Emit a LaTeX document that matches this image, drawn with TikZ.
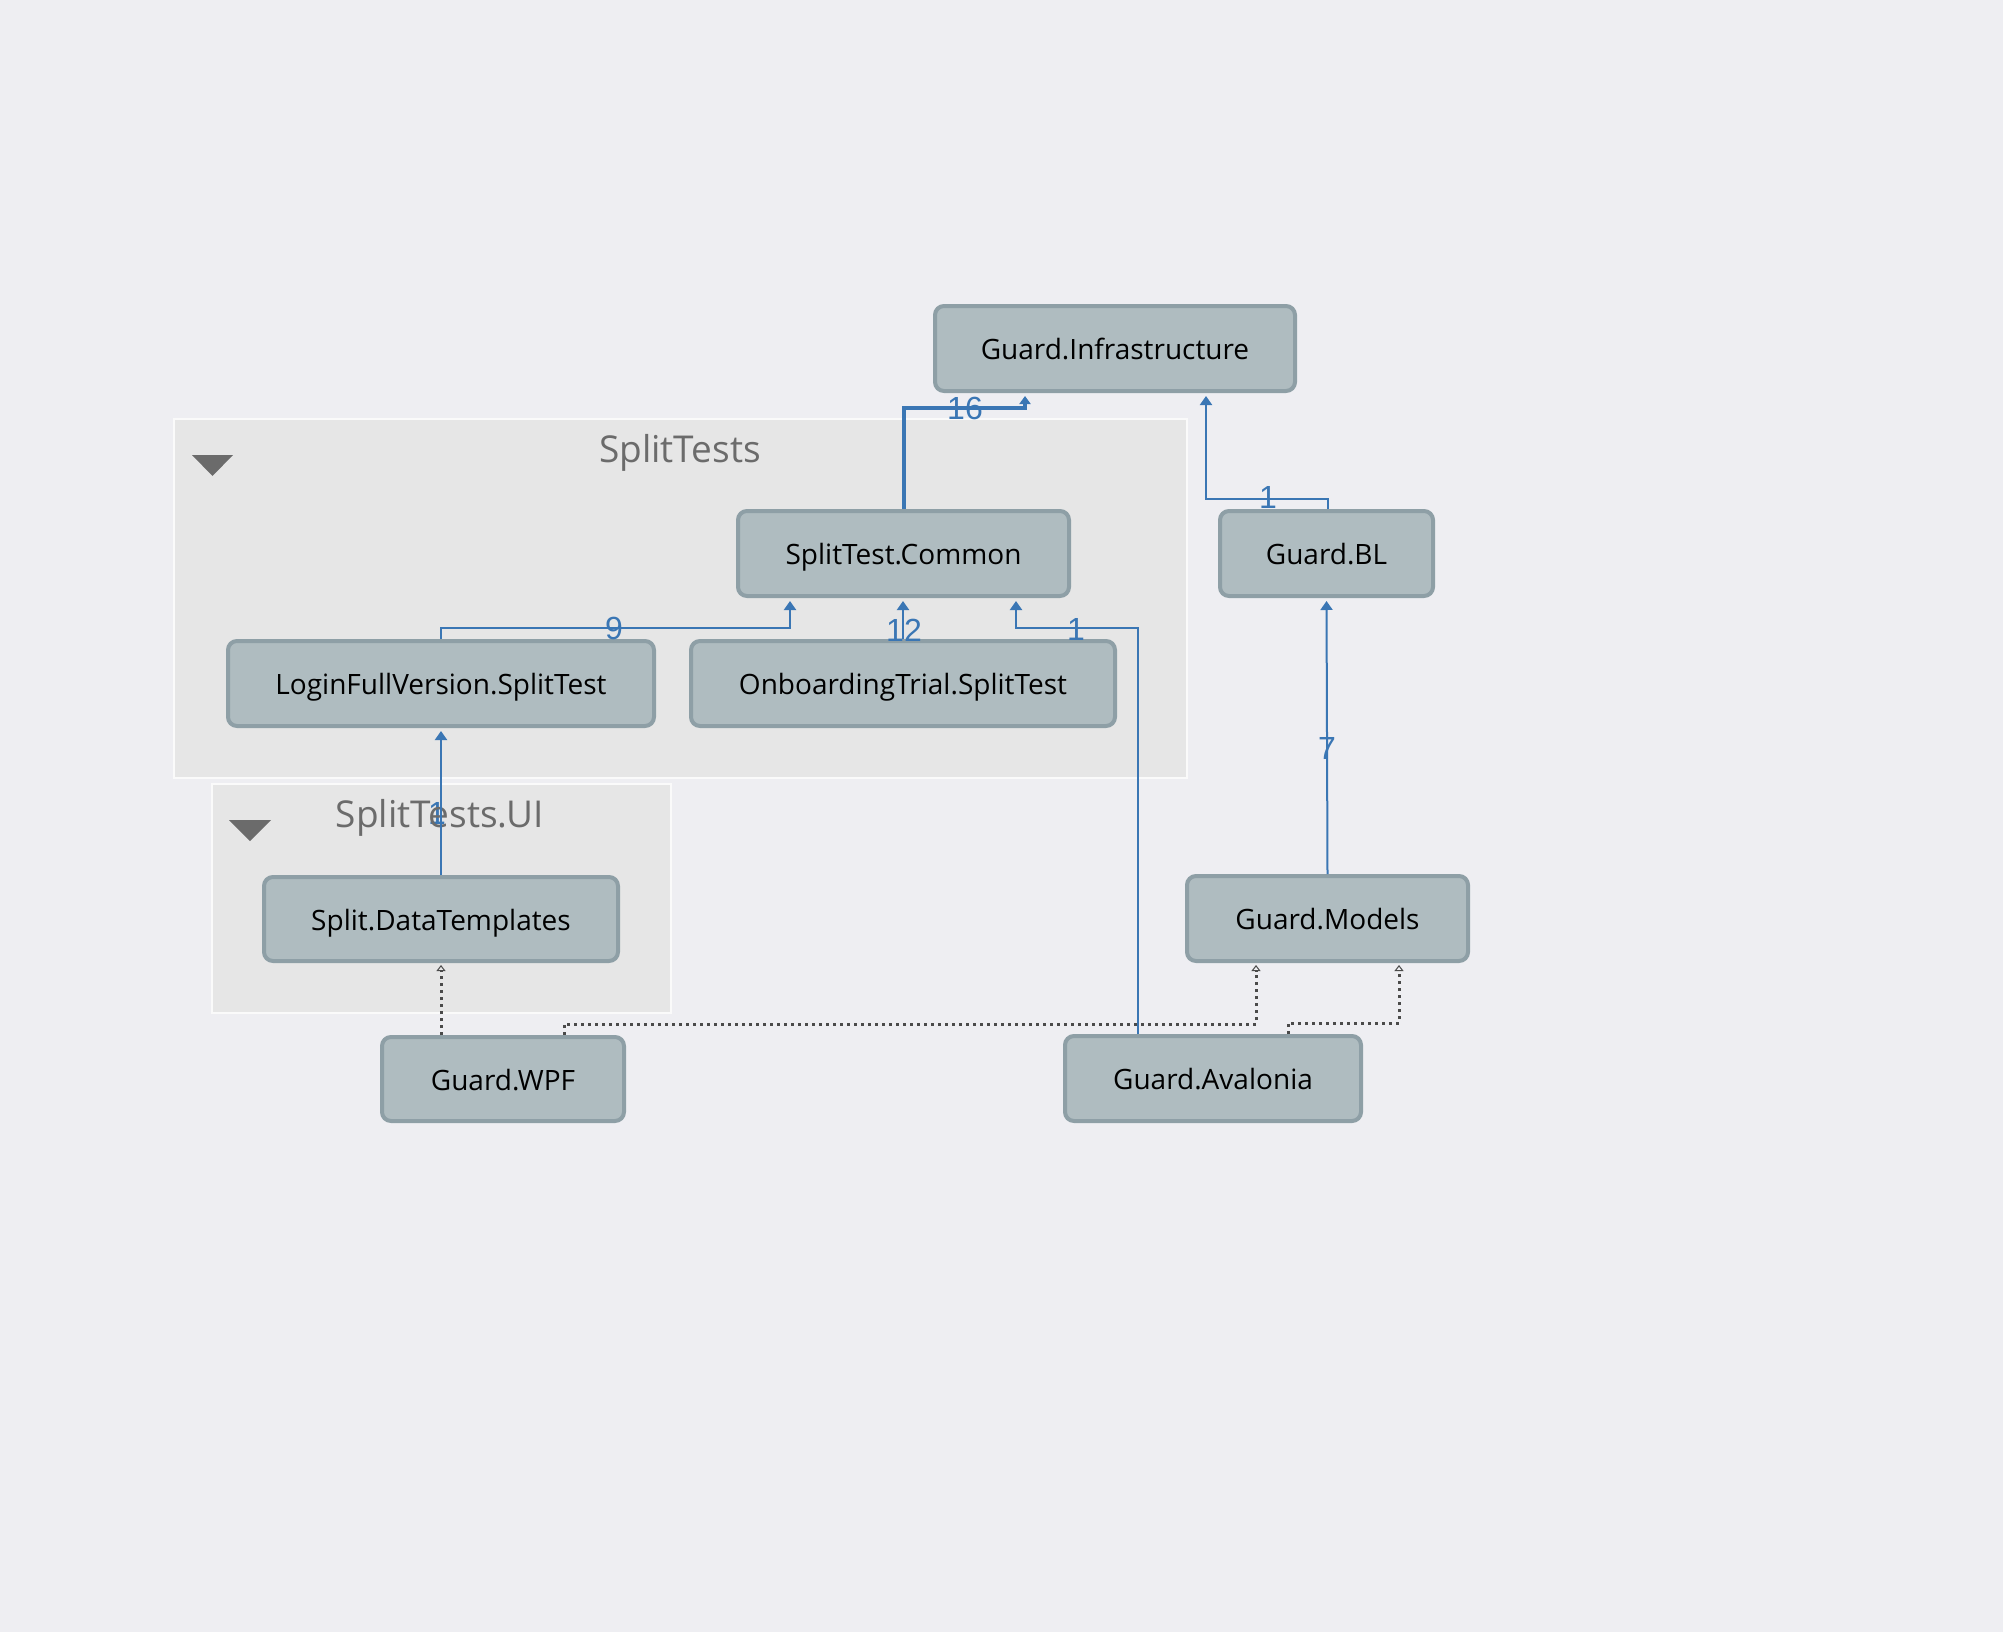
\documentclass[tikz,border=0pt]{standalone}
\usepackage{fontspec}
\setmainfont{Open Sans}
\newfontfamily\labelfont{Liberation Sans}
\usetikzlibrary{arrows.meta}
\definecolor{bgc}{HTML}{EEEEF2}
\definecolor{grpfill}{HTML}{E6E6E6}
\definecolor{grpline}{HTML}{FAFAFA}
\definecolor{nodefill}{HTML}{AFBCC0}
\definecolor{nodeline}{HTML}{8E9FA6}
\definecolor{edgeblue}{HTML}{3A76B4}
\definecolor{titlegray}{HTML}{6B6B6B}
\definecolor{dotgray}{HTML}{4A4A4A}
\tikzset{
  proj/.style={draw=nodeline, fill=nodefill, line width=4pt, rounded corners=9pt,
    inner sep=0pt, text height=22pt, text depth=0pt,
    font=\fontsize{28}{33}\selectfont, text=black},
  grp/.style={draw=grpline, fill=grpfill, line width=1.5pt},
  grptitle/.style={font=\fontsize{37}{44}\selectfont, text=titlegray, inner sep=0pt, anchor=base},
  dep/.style={draw=edgeblue, line width=2pt, -{Triangle[length=9pt,width=12pt]}, shorten >=3pt},
  depthick/.style={dep, line width=4pt, -{Triangle[length=8pt,width=11pt]}},
  dotdep/.style={draw=dotgray, line width=3pt, dash pattern=on 3pt off 4pt,
    -{Triangle[open,length=6pt,width=9pt,line width=1pt]}, shorten >=2pt},
  cnt/.style={text=edgeblue, font=\labelfont\fontsize{32}{36}\selectfont, inner sep=0pt},
}
\begin{document}
\begin{tikzpicture}[x=1pt,y=-1pt]
\useasboundingbox (0,0) rectangle (2003,1632);
\fill[bgc] (0,0) rectangle (2003,1632);
% groups
\draw[grp] (174,419) rectangle (1187,778);
\node[grptitle] (t1) at (680,462) {SplitTests};
\fill[titlegray] (192,455) -- (233,455) -- (212.5,476) -- cycle;
\draw[grp] (212,784) rectangle (671,1013);
\node[cnt] (c1c) at (437,813) {1};
\node[grptitle] (t2) at (440,827) {SplitTests.UI};
\fill[titlegray] (229,820) -- (271,820) -- (250,841) -- cycle;
% nodes
\node[proj, minimum width=360pt, minimum height=85pt] (infra) at (1115,348.5) {Guard.Infrastructure};
\node[proj, minimum width=331pt, minimum height=85pt] (common) at (903.5,553.5) {SplitTest.Common};
\node[proj, minimum width=213pt, minimum height=85pt] (bl) at (1326.5,553.5) {Guard.BL};
\node[proj, minimum width=426pt, minimum height=85pt] (login) at (441,683.5) {LoginFullVersion.SplitTest};
\node[proj, minimum width=424pt, minimum height=85pt] (onboard) at (903,683.5) {OnboardingTrial.SplitTest};
\node[proj, minimum width=354pt, minimum height=84pt] (dt) at (441,919) {Split.DataTemplates};
\node[proj, minimum width=242pt, minimum height=84pt] (wpf) at (503,1079) {Guard.WPF};
\node[proj, minimum width=281pt, minimum height=85pt] (models) at (1327.5,918.5) {Guard.Models};
\node[proj, minimum width=296pt, minimum height=85pt] (aval) at (1213,1078.5) {Guard.Avalonia};
% edges
\draw[depthick] (common.north) -- ++(0,-101) -| ([xshift=-90pt]infra.south);
\draw[dep] ([xshift=1.5pt]bl.north) -- ++(0,-10) -| ([xshift=91pt]infra.south);
\draw[dep] (login.north) -- ++(0,-11) -| ([xshift=-113.5pt]common.south);
\draw[dep] (onboard.north) -- (onboard.north |- common.south);
\draw[dep] ([xshift=-75pt]aval.north) -- ++(0,-406) -| ([xshift=112.5pt]common.south);
\draw[dep] (dt.north) -- (login.south);
\draw[dep] (models.north) -- (bl.south);
\draw[dotdep] ([xshift=-62pt]wpf.north) -- (dt.south);
\draw[dotdep] ([xshift=61pt]wpf.north) -- ++(0,-11) -| ([xshift=-71.5pt]models.south);
\draw[dotdep] ([xshift=75pt]aval.north) -- ++(0,-11) -| ([xshift=71.5pt]models.south);
% counts
\node[cnt] (c16) at (965,408) {16};
\node[cnt] (c1a) at (1268,497) {1};
\node[cnt] (c9) at (614,628) {9};
\node[cnt] (c12) at (904,630) {12};
\node[cnt] (c1b) at (1076,629) {1};
\node[cnt] (c7) at (1327,748) {7};
\end{tikzpicture}
\end{document}
